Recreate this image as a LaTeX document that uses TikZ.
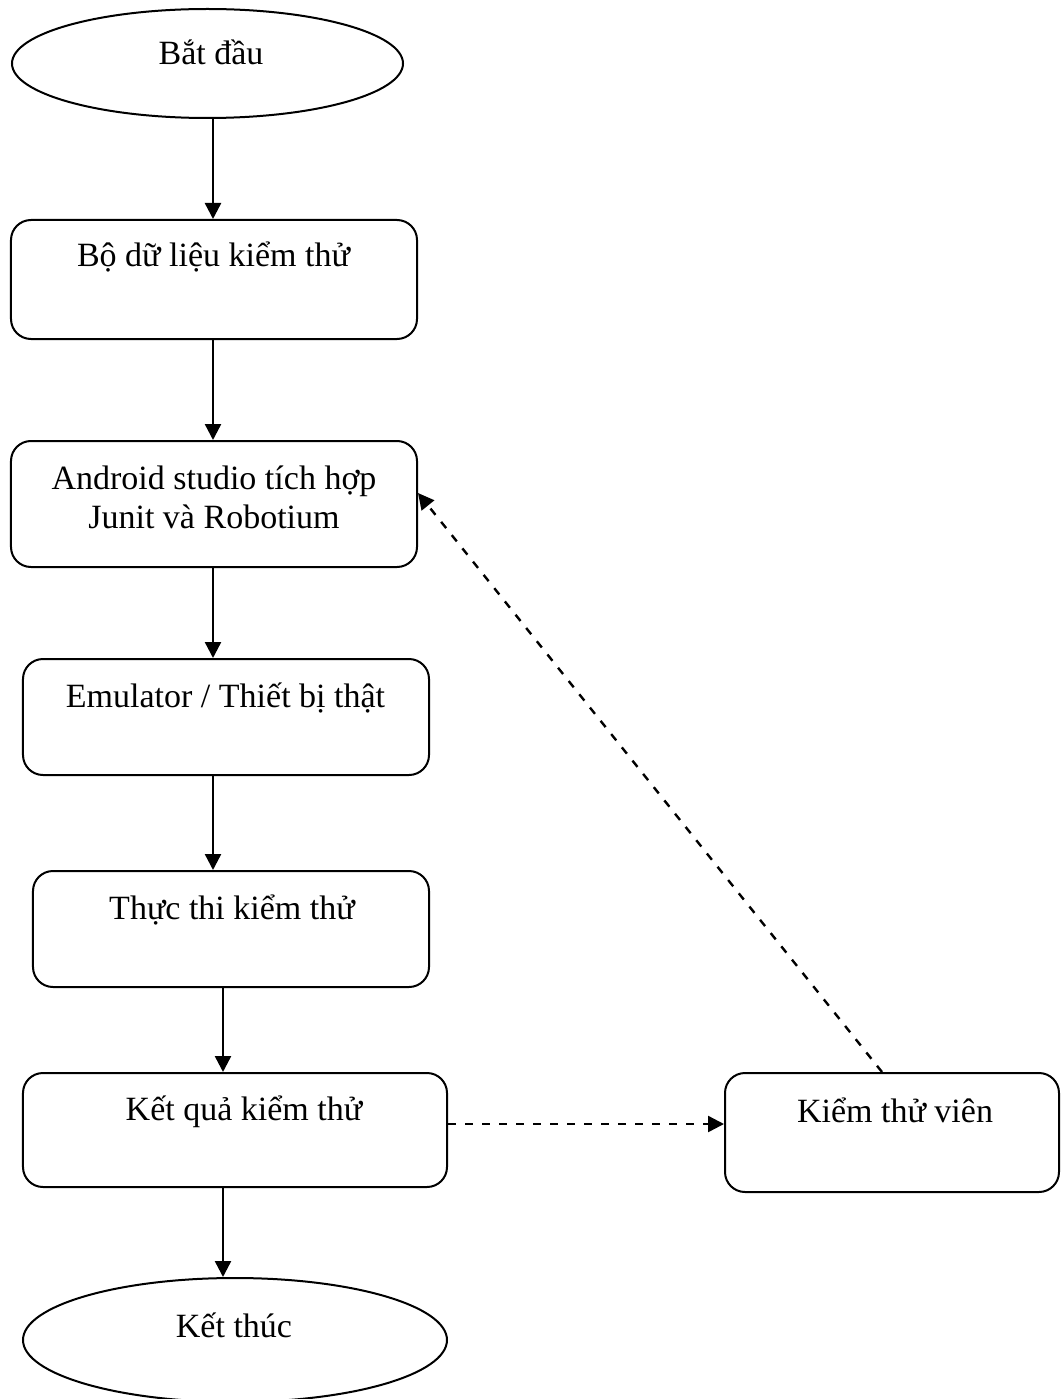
\documentclass[tikz,border=0pt]{standalone}
\usepackage{fontspec}
\setmainfont{Liberation Serif}
\usetikzlibrary{arrows.meta,shapes.geometric}

\tikzset{
  stepbox/.style={draw, rounded corners=20bp, inner sep=0pt, line width=2bp},
  terminal/.style={draw, ellipse, inner sep=0pt, line width=2bp},
  label text/.style={font=\fontsize{34bp}{39bp}\selectfont, inner sep=0pt, anchor=base},
  flow/.style={line width=2.4bp, -{Triangle[length=16bp,width=16bp]}},
  feedback/.style={flow, dash pattern=on 8bp off 9bp}
}

\begin{document}
\begin{tikzpicture}[x=1bp, y=-1bp]
  \useasboundingbox (0,0) rectangle (1060,1399);

  % shapes of the flow
  \node[terminal, minimum width=391bp, minimum height=109bp] (e1) at (207.5,63.5) {};
  \node[stepbox, minimum width=406bp, minimum height=119bp] (b1) at (214,279.5) {};
  \node[stepbox, minimum width=406bp, minimum height=126bp] (b2) at (214,504) {};
  \node[stepbox, minimum width=406bp, minimum height=116bp] (b3) at (226,717) {};
  \node[stepbox, minimum width=396bp, minimum height=116bp] (b4) at (231,929) {};
  \node[stepbox, minimum width=424bp, minimum height=114bp] (b5) at (235,1130) {};
  \node[stepbox, minimum width=334bp, minimum height=119bp] (b6) at (892,1132.5) {};
  \node[terminal, minimum width=424bp, minimum height=124bp] (e2) at (235,1340) {};

  % labels, set near the top of each shape
  \node[label text] (t0) at (211,65) {Bắt đầu};
  \node[label text] (t1) at (213.5,267) {Bộ dữ liệu kiểm thử};
  \node[label text] (t2) at (214,489) {\begin{tabular}[t]{@{}c@{}}Android studio tích hợp\\Junit và Robotium\end{tabular}};
  \node[label text] (t3) at (225.5,707) {Emulator / Thiết bị thật};
  \node[label text] (t4) at (232,919) {Thực thi kiểm thử};
  \node[label text] (t5) at (244,1120) {Kết quả kiểm thử};
  \node[label text] (t6) at (895,1122) {Kiểm thử viên};
  \node[label text] (t7) at (234,1337) {Kết thúc};

  % columns of the vertical connectors
  \coordinate (colA) at (213,0);
  \coordinate (colB) at (223,0);

  % main flow
  \draw[flow] (colA |- e1.south) -- (colA |- b1.north);
  \draw[flow] (colA |- b1.south) -- (colA |- b2.north);
  \draw[flow] (colA |- b2.south) -- (colA |- b3.north);
  \draw[flow] (colA |- b3.south) -- (colA |- b4.north);
  \draw[flow] (colB |- b4.south) -- (colB |- b5.north);
  \draw[flow] (colB |- b5.south) -- (colB |- e2.north);

  % tester loop
  \coordinate (r5) at (b5.east |- 0,1124);
  \draw[feedback] (r5) -- (r5 -| b6.west);
  \draw[feedback] ([xshift=-10bp]b6.north) -- ([yshift=11bp]b2.east);
\end{tikzpicture}
\end{document}
